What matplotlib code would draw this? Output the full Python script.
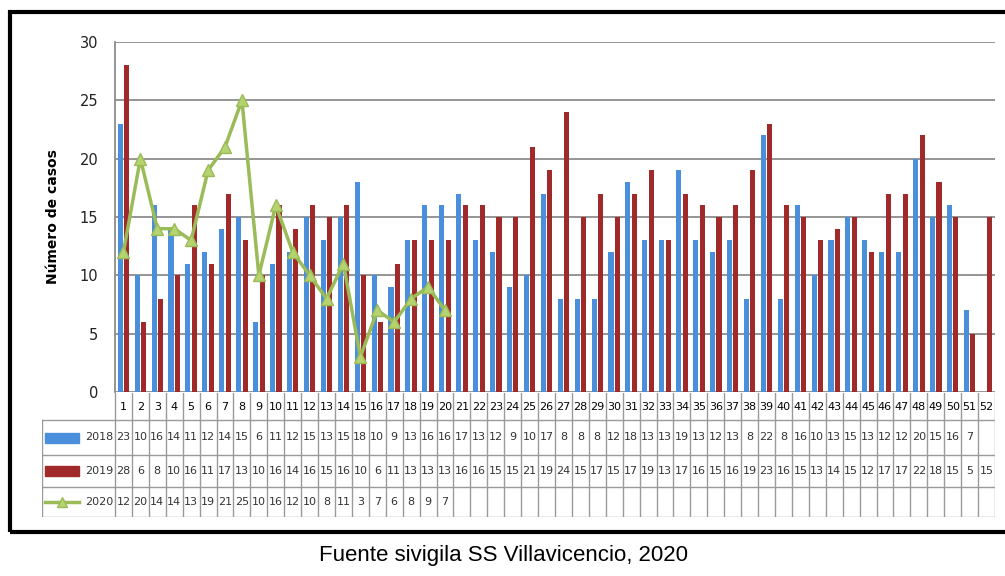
import matplotlib
matplotlib.use('Agg')
import matplotlib.pyplot as plt
from matplotlib.patches import Rectangle
import numpy as np

W, H = 1005, 576

weeks = list(range(1, 53))
cases_2018 = [23, 10, 16, 14, 11, 12, 14, 15, 6, 11, 12, 15, 13, 15, 18, 10, 9, 13, 16, 16,
              17, 13, 12, 9, 10, 17, 8, 8, 8, 12, 18, 13, 13, 19, 13, 12, 13, 8, 22, 8,
              16, 10, 13, 15, 13, 12, 12, 20, 15, 16, 7]
cases_2019 = [28, 6, 8, 10, 16, 11, 17, 13, 10, 16, 14, 16, 15, 16, 10, 6, 11, 13, 13, 13,
              16, 16, 15, 15, 21, 19, 24, 15, 17, 15, 17, 19, 13, 17, 16, 15, 16, 19, 23, 16,
              15, 13, 14, 15, 12, 17, 17, 22, 18, 15, 5, 15]
cases_2020 = [12, 20, 14, 14, 13, 19, 21, 25, 10, 16, 12, 10, 8, 11, 3, 7, 6, 8, 9, 7]

C18 = '#4a8fdc'
C19 = '#a02a2a'
C20 = '#9bbb59'
GRID = '#8c8c8c'

fig = plt.figure(figsize=(W / 100, H / 100), dpi=100)


def px(x0, y0, x1, y1):
    # pixel box (top-left origin) -> figure fraction rect
    return [x0 / W, 1 - y1 / H, (x1 - x0) / W, (y1 - y0) / H]


# main chart
ax = fig.add_axes(px(115, 42, 995, 392))
x18 = np.arange(1, len(cases_2018) + 1)
x19 = np.arange(1, len(cases_2019) + 1)
x20 = np.arange(1, len(cases_2020) + 1)
ax.bar(x18 - 0.19, cases_2018, width=0.3, color=C18, zorder=2)
ax.bar(x19 + 0.19, cases_2019, width=0.3, color=C19, zorder=2)
ax.plot(x20, cases_2020, color=C20, lw=2.5, marker='^', ms=8,
        markerfacecolor='#b5d36e', markeredgecolor=C20, zorder=3)

ax.set_xlim(0.5, 52.5)
ax.set_ylim(0, 30)
ax.set_yticks(range(0, 31, 5))
ax.set_xticks([])
ax.grid(axis='y', color=GRID, lw=1.3, zorder=0)
for s in ['top', 'right', 'bottom']:
    ax.spines[s].set_visible(False)
ax.spines['left'].set_color(GRID)
ax.spines['left'].set_linewidth(1.3)
ax.tick_params(axis='y', length=0, pad=12, labelsize=10.5, labelcolor='#222222')
ax.set_ylabel('Número de casos', fontsize=10, fontweight='bold', labelpad=14)

# data table under the chart
tab = fig.add_axes(px(42, 393, 995, 517))
unit = 52 / 880
left = 0.5 - (115 - 42) * unit
tab.set_xlim(left, 52.5)
tab.set_ylim(0, 124)
tab.axis('off')
rows = [0, 30, 62, 97, 124]
lc = '#9a9a9a'
for y in rows[:4]:
    tab.plot([left, 52.5], [y, y], color=lc, lw=1)
for xb in np.arange(0.5, 53.5, 1):
    tab.plot([xb, xb], [0, 124], color=lc, lw=1)
tab.plot([left, left], [0, 97], color=lc, lw=1)

for w in weeks:
    tab.text(w, 110, str(w), ha='center', va='center', fontsize=8)
series = [(cases_2018, 79.5), (cases_2019, 46), (cases_2020, 15)]
for vals, yc in series:
    for i, v in enumerate(vals):
        tab.text(i + 1, yc, str(v), ha='center', va='center', fontsize=8, color='#333333')

# legend keys
tab.add_patch(Rectangle((left + 0.2, 74.5), 2.0, 10, color=C18))
tab.add_patch(Rectangle((left + 0.2, 41), 2.0, 10, color=C19))
tab.plot([left + 0.2, left + 2.2], [15, 15], color=C20, lw=2.5)
tab.plot([left + 1.2], [15], marker='^', ms=7, color='#b5d36e', markeredgecolor=C20)
for lab, (_, yc) in zip(['2018', '2019', '2020'], series):
    tab.text(0.4, yc, lab, ha='right', va='center', fontsize=8, color='#333333')

# outer frame
fig.patches.append(Rectangle((10 / W, 1 - 532 / H), 1.0, (532 - 12) / H,
                             transform=fig.transFigure, fill=False, lw=3,
                             edgecolor='black'))

fig.text(503 / W, 1 - 556 / H, 'Fuente sivigila SS Villavicencio, 2020',
         ha='center', va='center', fontsize=16, family='Liberation Sans')

fig.savefig('out.png', dpi=100)
